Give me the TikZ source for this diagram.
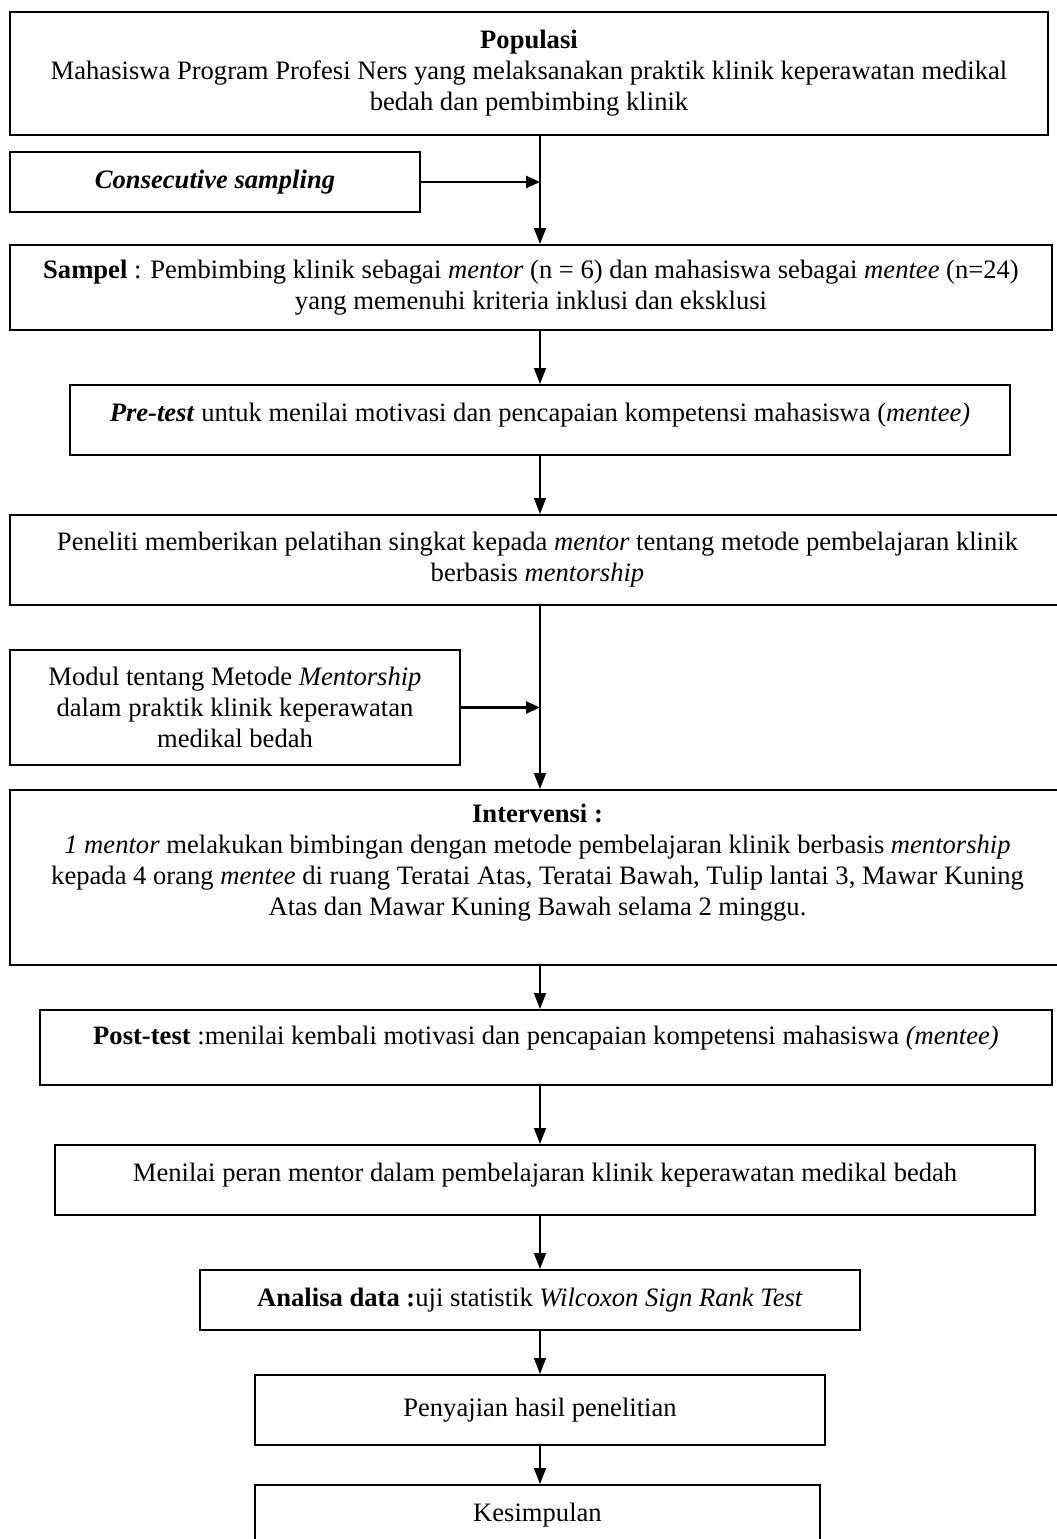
\documentclass[tikz,border=0pt]{standalone}
\usepackage{fontspec}
\setmainfont{Liberation Serif}
\usetikzlibrary{arrows.meta}
\newcommand\fsz{\fontsize{26.6}{31}\selectfont}
\tikzset{
  box/.style={draw, line width=2pt, align=center, inner sep=0pt, font=\fsz},
  arr/.style={line width=1.6pt, -{Triangle[length=16pt,width=12pt]}},
  sidearr/.style={line width=2.6pt, -{Triangle[length=14pt,width=12pt]}},
}
\begin{document}
\begin{tikzpicture}[x=1pt,y=-1pt]
\clip (0,0) rectangle (1057,1539);
\fill[white] (0,0) rectangle (1057,1539);
\coordinate (tx) at (540,0);

\node[box, minimum width=1038pt, minimum height=123pt] (pop) at (529,73.5)
  {\textbf{Populasi}\\Mahasiswa Program Profesi Ners yang melaksanakan praktik klinik keperawatan medikal\\bedah dan pembimbing klinik};
\node[box, minimum width=410pt, minimum height=60pt] (cons) at (215,182)
  {\textbf{\textit{Consecutive sampling}}};
\node[box, minimum width=1042pt, minimum height=85pt] (sam) at (531,287.5)
  {\textbf{Sampel} : Pembimbing klinik sebagai \textit{mentor} (n = 6) dan mahasiswa sebagai \textit{mentee} (n=24)\\yang memenuhi kriteria inklusi dan eksklusi};
\node[box, minimum width=940pt, minimum height=70pt, text depth=15pt] (pre) at (540,420)
  {\textbf{\textit{Pre-test}} untuk menilai motivasi dan pencapaian kompetensi mahasiswa (\textit{mentee)}};
\node[box, minimum width=1055pt, minimum height=90pt] (pen) at (537.5,560)
  {Peneliti memberikan pelatihan singkat kepada \textit{mentor} tentang metode pembelajaran klinik\\berbasis \textit{mentorship}};
\node[box, minimum width=450pt, minimum height=115pt] (mod) at (235,707.5)
  {Modul tentang Metode \textit{Mentorship}\\dalam praktik klinik keperawatan\\medikal bedah};
\node[box, minimum width=1055pt, minimum height=175pt, text depth=36pt] (int) at (537.5,877.5)
  {\textbf{Intervensi :}\\\textit{1 mentor} melakukan bimbingan dengan metode pembelajaran klinik berbasis \textit{mentorship}\\kepada 4 orang \textit{mentee} di ruang Teratai Atas, Teratai Bawah, Tulip lantai 3, Mawar Kuning\\Atas dan Mawar Kuning Bawah selama 2 minggu.};
\node[box, minimum width=1012pt, minimum height=75pt, text depth=25pt] (post) at (546,1047.5)
  {\textbf{Post-test} :menilai kembali motivasi dan pencapaian kompetensi mahasiswa \textit{(mentee)}};
\node[box, minimum width=980pt, minimum height=70pt, text depth=15pt] (nil) at (545,1180)
  {Menilai peran mentor dalam pembelajaran klinik keperawatan medikal bedah};
\node[box, minimum width=660pt, minimum height=60pt] (ana) at (530,1300)
  {\textbf{Analisa data :}uji statistik \textit{Wilcoxon Sign Rank Test}};
\node[box, minimum width=570pt, minimum height=70pt] (saj) at (540,1410)
  {Penyajian hasil penelitian};
\node[box, minimum width=565pt, minimum height=60pt] (kes) at (537.5,1515)
  {Kesimpulan};

\draw[arr] (pop.south -| tx) -- (sam.north -| tx);
\draw[sidearr] (cons.east) -- (cons.east -| tx);
\draw[arr] (sam.south -| tx) -- (pre.north -| tx);
\draw[arr] (pre.south -| tx) -- (pen.north -| tx);
\draw[arr] (pen.south -| tx) -- (int.north -| tx);
\draw[sidearr] (mod.east) -- (mod.east -| tx);
\draw[arr] (int.south -| tx) -- (post.north -| tx);
\draw[arr] (post.south -| tx) -- (nil.north -| tx);
\draw[arr] (nil.south -| tx) -- (ana.north -| tx);
\draw[arr] (ana.south -| tx) -- (saj.north -| tx);
\draw[arr] (saj.south -| tx) -- (kes.north -| tx);
\end{tikzpicture}
\end{document}
